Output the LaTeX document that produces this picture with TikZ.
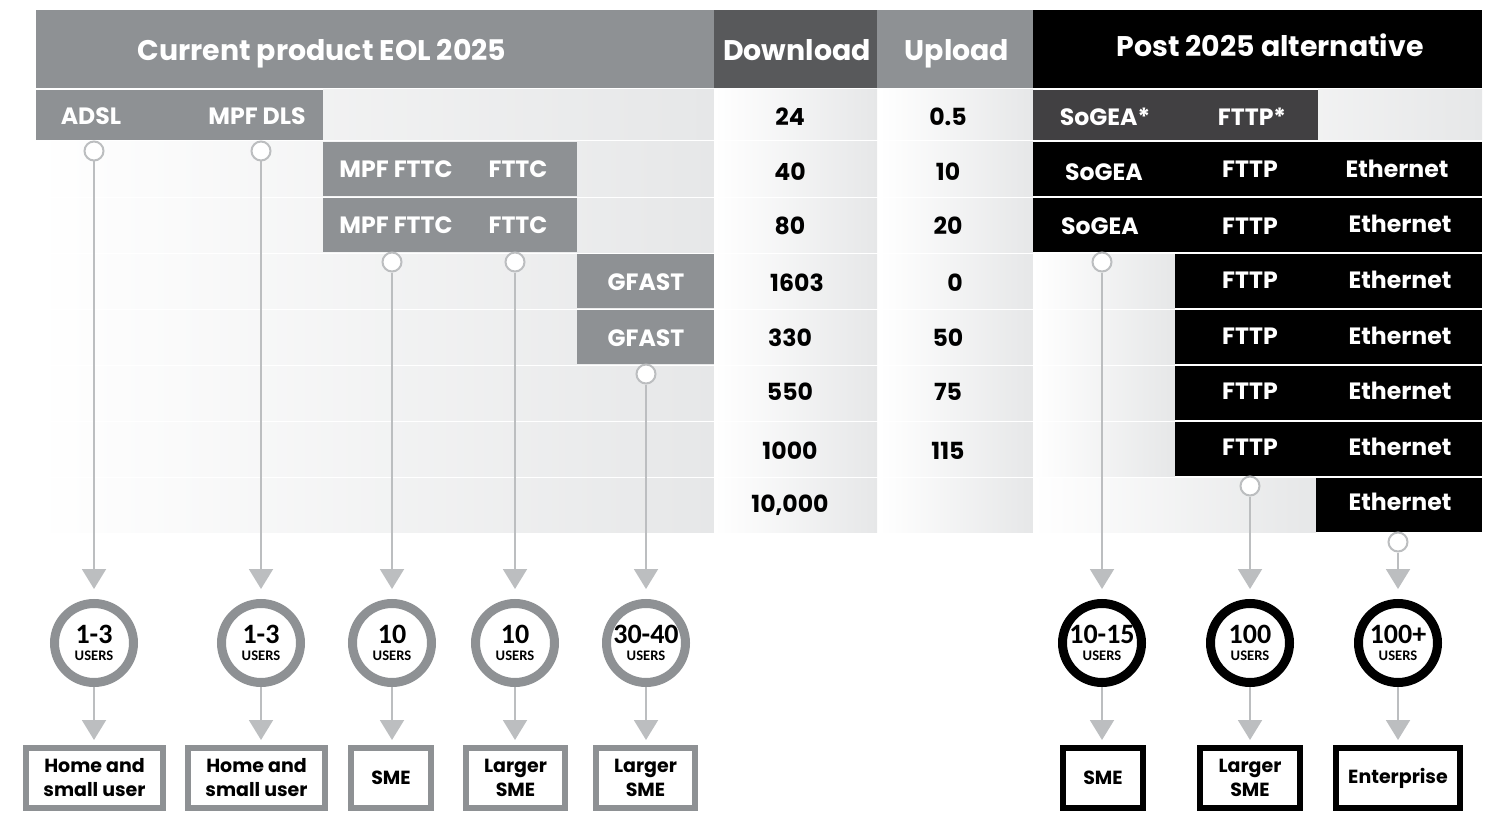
\documentclass[tikz,border=0pt]{standalone}
\usepackage{fontspec}
\setmainfont{Poppins}
\newfontfamily\usersfont{Carlito}
\usetikzlibrary{arrows.meta}

\definecolor{eolgray}{HTML}{8E9194}
\definecolor{dlgray}{HTML}{58595B}
\definecolor{sogray}{HTML}{414042}
\definecolor{cellgray}{HTML}{E6E7E8}
\definecolor{linegray}{HTML}{BCBEC0}

\newcommand{\userlabel}[1]{{\usersfont\bfseries\fontsize{14}{14}\selectfont #1}\\[-3.5pt]{\usersfont\bfseries\fontsize{7.3}{8}\selectfont USERS}}

\begin{document}
\begin{tikzpicture}[x=0.5pt, y=-0.5pt,
	hd/.style={text=white, font=\bfseries\fontsize{14.2}{16}\selectfont, text height=10.5pt, text depth=3pt},
	cell/.style={font=\bfseries\fontsize{11.8}{13}\selectfont, text height=8.5pt, text depth=0pt},
	wcell/.style={cell, text=white},
	rowfade/.style={left color=white, right color=cellgray},
	lightfade/.style={left color=cellgray!55, right color=cellgray},
	pin/.style={circle, draw=linegray, line width=1pt, fill=white, minimum size=9.5pt, inner sep=0pt},
	users/.style={circle, line width=4.5pt, fill=white, minimum size=39.5pt, inner sep=0pt, align=center},
	kind/.style={rectangle, line width=3pt, fill=white, minimum height=30pt, inner sep=0pt, align=center, font=\bfseries\fontsize{9.5}{12}\selectfont},
	conn/.style={draw=linegray, line width=1pt, -{Triangle[width=12pt,length=10pt]}}]

	\useasboundingbox (0,0) rectangle (1489,813);

	% header
	\fill[eolgray] (36,10) rectangle (714,88);
	\fill[dlgray] (714,10) rectangle (877,88);
	\fill[eolgray] (877,10) rectangle (1033,88);
	\fill[black] (1033,10) rectangle (1482,88);
	\node (h1) [hd] at (322,53) {Current product EOL 2025};
	\node (h2) [hd] at (797,53) {Download};
	\node (h3) [hd] at (957,53) {Upload};
	\node (h4) [hd] at (1270,49) {Post 2025 alternative};

	% row backgrounds
	\shade[lightfade] (323,90) rectangle (714,140);
	\foreach \t in {142,198,254,310,366,422,478}
		\shade[rowfade] (36,\t) rectangle (714,\t+54);
	\shade[rowfade] (714,90) rectangle (877,140);
	\shade[rowfade] (879,90) rectangle (1033,140);
	\foreach \t in {142,198,254,310,366,422,478} {
		\shade[rowfade] (714,\t) rectangle (877,\t+54);
		\shade[rowfade] (879,\t) rectangle (1033,\t+54);
	}
	\shade[lightfade] (1318,90) rectangle (1482,140);
	\foreach \t in {254,310,366,422}
		\shade[rowfade] (1033,\t) rectangle (1175,\t+54);
	\shade[rowfade] (1033,478) rectangle (1316,532);

	% current products
	\fill[eolgray] (36,90) rectangle (323,140);
	\fill[eolgray] (323,142) rectangle (577,196);
	\fill[eolgray] (323,198) rectangle (577,252);
	\fill[eolgray] (577,254) rectangle (714,308);
	\fill[eolgray] (577,310) rectangle (714,364);
	\node (adsl) [wcell] at (91,116) {ADSL};
	\node (dls) [wcell] at (257,116) {MPF DLS};
	\node (mf1) [wcell] at (396,169) {MPF FTTC};
	\node (ft1) [wcell] at (518,169) {FTTC};
	\node (mf2) [wcell] at (396,225) {MPF FTTC};
	\node (ft2) [wcell] at (518,225) {FTTC};
	\node (gf1) [wcell] at (646,282) {GFAST};
	\node (gf2) [wcell] at (646,338) {GFAST};

	% speeds
	\node (d1) [cell] at (790,117) {24};
	\node (d2) [cell] at (790,172) {40};
	\node (d3) [cell] at (790,226) {80};
	\node (d4) [cell] at (797,283) {1603};
	\node (d5) [cell] at (790,338) {330};
	\node (d6) [cell] at (790,392) {550};
	\node (d7) [cell] at (790,451) {1000};
	\node (d8) [cell] at (790,504) {10,000};
	\node (u1t) [cell] at (948,117) {0.5};
	\node (u2t) [cell] at (948,172) {10};
	\node (u3t) [cell] at (948,226) {20};
	\node (u4t) [cell] at (955,283) {0};
	\node (u5t) [cell] at (948,338) {50};
	\node (u6t) [cell] at (948,392) {75};
	\node (u7t) [cell] at (948,451) {115};

	% alternatives
	\fill[sogray] (1033,90) rectangle (1318,140);
	\fill[black] (1033,142) rectangle (1482,196);
	\fill[black] (1033,198) rectangle (1482,252);
	\fill[black] (1175,254) rectangle (1482,308);
	\fill[black] (1175,310) rectangle (1482,364);
	\fill[black] (1175,366) rectangle (1482,420);
	\fill[black] (1175,422) rectangle (1482,476);
	\fill[black] (1316,478) rectangle (1482,532);
	\node (sg0) [wcell] at (1105,117) {SoGEA*};
	\node (fp0) [wcell] at (1252,117) {FTTP*};
	\node (sg1) [wcell] at (1104,172) {SoGEA};
	\node (fp1) [wcell] at (1250,169) {FTTP};
	\node (et1) [wcell] at (1397,169) {Ethernet};
	\node (sg2) [wcell] at (1100,226) {SoGEA};
	\node (fp2) [wcell] at (1250,226) {FTTP};
	\node (et2) [wcell] at (1400,224) {Ethernet};
	\node (fp3) [wcell] at (1250,280) {FTTP};
	\node (et3) [wcell] at (1400,280) {Ethernet};
	\node (fp4) [wcell] at (1250,336) {FTTP};
	\node (et4) [wcell] at (1400,336) {Ethernet};
	\node (fp5) [wcell] at (1250,391) {FTTP};
	\node (et5) [wcell] at (1400,391) {Ethernet};
	\node (fp6) [wcell] at (1250,447) {FTTP};
	\node (et6) [wcell] at (1400,447) {Ethernet};
	\node (et7) [wcell] at (1400,502) {Ethernet};

	% pins
	\node (p1) [pin] at (94,151) {};
	\node (p2) [pin] at (261,151) {};
	\node (p3) [pin] at (392,262) {};
	\node (p4) [pin] at (515,262) {};
	\node (p5) [pin] at (646,374) {};
	\node (p6) [pin] at (1102,262) {};
	\node (p7) [pin] at (1250,486) {};
	\node (p8) [pin] at (1398,542) {};

	% users
	\node (c1) [users, draw=eolgray] at (94,643) {\userlabel{1-3}};
	\node (c2) [users, draw=eolgray] at (261,643) {\userlabel{1-3}};
	\node (c3) [users, draw=eolgray] at (392,643) {\userlabel{10}};
	\node (c4) [users, draw=eolgray] at (515,643) {\userlabel{10}};
	\node (c5) [users, draw=eolgray] at (646,643) {\userlabel{30-40}};
	\node (c6) [users, draw=black] at (1102,643) {\userlabel{10-15}};
	\node (c7) [users, draw=black] at (1250,643) {\userlabel{100}};
	\node (c8) [users, draw=black] at (1398,643) {\userlabel{100+}};

	% customer kinds
	\node (k1) [kind, draw=eolgray, minimum width=68.5pt] at (94.5,778) {Home and\\small user};
	\node (k2) [kind, draw=eolgray, minimum width=68.5pt] at (256.5,778) {Home and\\small user};
	\node (k3) [kind, draw=eolgray, minimum width=40pt] at (391,778) {SME};
	\node (k4) [kind, draw=eolgray, minimum width=49.5pt] at (515.5,778) {Larger\\SME};
	\node (k5) [kind, draw=eolgray, minimum width=49.5pt] at (645.5,778) {Larger\\SME};
	\node (k6) [kind, draw=black, minimum width=40pt] at (1103,778) {SME};
	\node (k7) [kind, draw=black, minimum width=50pt] at (1250,778) {Larger\\SME};
	\node (k8) [kind, draw=black, minimum width=62pt] at (1398,778) {Enterprise};

	% connectors
	\draw[conn, shorten >=5pt] (p1) -- (c1);
	\draw[conn, shorten >=5pt] (p2) -- (c2);
	\draw[conn, shorten >=5pt] (p3) -- (c3);
	\draw[conn, shorten >=5pt] (p4) -- (c4);
	\draw[conn, shorten >=5pt] (p5) -- (c5);
	\draw[conn, shorten >=5pt] (p6) -- (c6);
	\draw[conn, shorten >=5pt] (p7) -- (c7);
	\draw[conn, shorten >=5pt] (p8) -- (c8);
	\draw[conn, shorten >=2.5pt] (c1) -- (c1 |- k1.north);
	\draw[conn, shorten >=2.5pt] (c2) -- (c2 |- k2.north);
	\draw[conn, shorten >=2.5pt] (c3) -- (c3 |- k3.north);
	\draw[conn, shorten >=2.5pt] (c4) -- (c4 |- k4.north);
	\draw[conn, shorten >=2.5pt] (c5) -- (c5 |- k5.north);
	\draw[conn, shorten >=2.5pt] (c6) -- (c6 |- k6.north);
	\draw[conn, shorten >=2.5pt] (c7) -- (c7 |- k7.north);
	\draw[conn, shorten >=2.5pt] (c8) -- (c8 |- k8.north);
\end{tikzpicture}
\end{document}
